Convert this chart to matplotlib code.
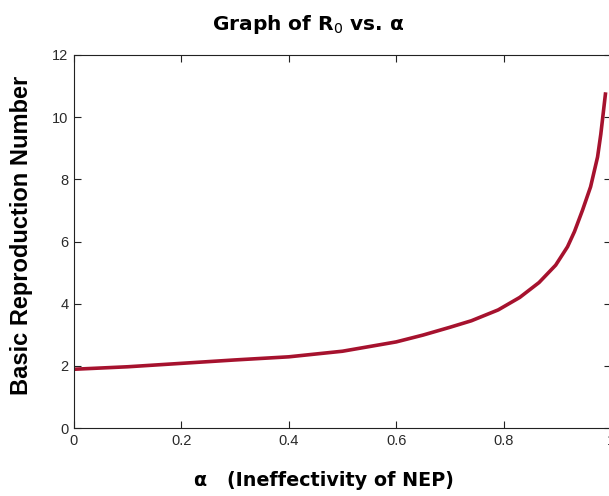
import numpy as np
import matplotlib.pyplot as plt

# values
alpha = [0.0, 0.1, 0.2, 0.3, 0.4, 0.5, 0.6, 0.65, 0.7, 0.74, 0.79,
         0.83, 0.866, 0.897, 0.919, 0.932, 0.947, 0.962, 0.975, 0.981,
         0.987, 0.99]
r0 = [1.89, 1.97, 2.08, 2.19, 2.29, 2.47, 2.77, 2.99, 3.24, 3.45, 3.80,
      4.20, 4.68, 5.24, 5.83, 6.32, 7.01, 7.76, 8.72, 9.45,
      10.35, 10.8]

xticks = [0, 0.2, 0.4, 0.6, 0.8, 1]
xticklabels = ['0', '0.2', '0.4', '0.6', '0.8', '1']
yticks = [0, 2, 4, 6, 8, 10, 12]

W, H = 609, 496
fig = plt.figure(figsize=(W / 100, H / 100), dpi=100)
ax = fig.add_axes([74 / W, 68 / H, (611 - 74) / W, (428 - 55) / H])

ax.plot(alpha, r0, color='#A6122E', lw=2.6, solid_capstyle='butt',
        solid_joinstyle='round')

ax.set_xlim(0, 1)
ax.set_ylim(0, 12)
ax.set_xticks(xticks)
ax.set_xticklabels(xticklabels)
ax.set_yticks(yticks)
ax.tick_params(direction='in', length=5, width=0.8, top=True, right=True,
               labelsize=10.5, labelcolor='#2a2a2a', color='#222222', pad=4)
for lab in ax.get_xticklabels() + ax.get_yticklabels():
    lab.set_family('Liberation Sans')
for s in ax.spines.values():
    s.set_linewidth(0.8)
    s.set_color('#222222')

fig.text(308 / W, 1 - 24 / H, r'Graph of R$_{0}$ vs. α', ha='center', va='center',
         fontsize=14.5, fontweight='bold', family='DejaVu Sans')
fig.text(324 / W, 1 - 481 / H, 'α   (Ineffectivity of NEP)', ha='center', va='center',
         fontsize=13.8, fontweight='bold', family='DejaVu Sans')
fig.text(22 / W, 1 - 235 / H, 'Basic Reproduction Number', ha='center', va='center',
         rotation=90, fontsize=17, fontweight='bold', family='Liberation Sans')

fig.savefig('out.png', dpi=100)
